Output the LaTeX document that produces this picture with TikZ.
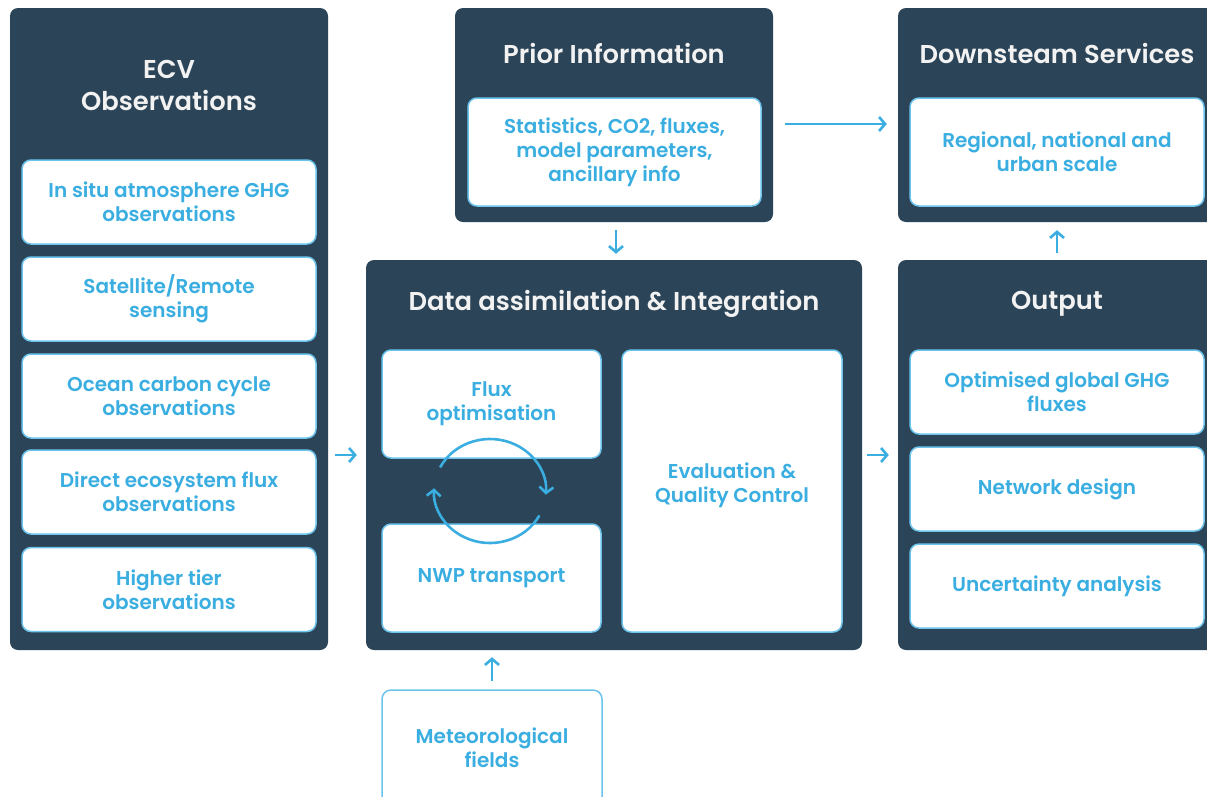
\documentclass[tikz,border=0pt]{standalone}
\usepackage{fontspec}
\setmainfont{Poppins}[BoldFont={Poppins SemiBold}]
\usetikzlibrary{arrows.meta}
\definecolor{panelc}{HTML}{2B4457}
\definecolor{txtc}{HTML}{3AAEE0}
\definecolor{bordc}{HTML}{6CC4EC}
\definecolor{titc}{HTML}{F2F2F2}
\begin{document}
\begin{tikzpicture}[x=1pt,y=-1pt,
 panel/.style={fill=panelc, draw=none, rounded corners=8pt, inner sep=0pt},
 ibox/.style={fill=white, draw=bordc, line width=1.5pt, rounded corners=9pt, align=center, text=txtc, font=\fontsize{20}{24}\selectfont\bfseries, inner sep=0pt},
 ptitle/.style={text=titc, font=\fontsize{25.8}{32}\selectfont\bfseries, align=center, inner sep=0pt},
 arr/.style={draw=txtc, line width=2.6pt, -{Straight Barb[length=6pt,width=14pt]}}]
\useasboundingbox[fill=white] (0,0) rectangle (1207,796);

% ECV panel
\node[panel, minimum width=318pt, minimum height=642pt] (ecv) at (169,329) {};
\node[ptitle] (ecvt) at (169,85) {ECV\\Observations};
\node[ibox, minimum width=294pt, minimum height=84pt] (e1) at (169,202) {In situ atmosphere GHG\\observations};
\node[ibox, minimum width=294pt, minimum height=84pt] (e2) at (169,299) {Satellite/Remote\\sensing};
\node[ibox, minimum width=294pt, minimum height=84pt] (e3) at (169,396) {Ocean carbon cycle\\observations};
\node[ibox, minimum width=294pt, minimum height=84pt] (e4) at (169,492) {Direct ecosystem flux\\observations};
\node[ibox, minimum width=294pt, minimum height=84pt] (e5) at (169,589.5) {Higher tier\\observations};

% Prior information
\node[panel, minimum width=318pt, minimum height=214pt] (prior) at (614,115) {};
\node[ptitle] (priort) at (614,53) {Prior Information};
\node[ibox, minimum width=293pt, minimum height=108pt] (p1) at (614.5,152) {Statistics, CO2, fluxes,\\model parameters,\\ancillary info};

% Downstream services
\node[panel, minimum width=318pt, minimum height=214pt] (down) at (1057,115) {};
\node[ptitle] (downt) at (1057,53) {Downsteam Services};
\node[ibox, minimum width=294pt, minimum height=108pt] (d1) at (1057,152) {Regional, national and\\urban scale};

% Data assimilation
\node[panel, minimum width=496pt, minimum height=390pt] (da) at (614,455) {};
\node[ptitle] (dat) at (614,304) {Data assimilation \& Integration};
\node[ibox, minimum width=219pt, minimum height=108pt] (flux) at (491.5,404) {Flux\\optimisation};
\node[ibox, minimum width=219pt, minimum height=108pt] (nwp) at (491.5,578) {NWP transport};
\node[ibox, minimum width=220pt, minimum height=282pt] (eval) at (732,491) {};
\node[text=txtc, font=\fontsize{20}{24}\selectfont\bfseries, align=center, inner sep=0pt] (evalt) at (eval.center |- 0,485) {Evaluation \&\\Quality Control};

% Output
\node[panel, minimum width=318pt, minimum height=390pt] (out) at (1057,455) {};
\node[ptitle] (outt) at (1057,304) {Output};
\node[ibox, minimum width=294pt, minimum height=84pt] (o1) at (1057,392) {Optimised global GHG\\fluxes};
\node[ibox, minimum width=294pt, minimum height=84pt] (o2) at (1057,489) {Network design};
\node[ibox, minimum width=294pt, minimum height=84pt] (o3) at (1057,586) {Uncertainty analysis};

% Meteorological fields
\node[ibox, minimum width=220pt, minimum height=116pt] (met) at (492,748) {Meteorological\\fields};

% connectors
\draw[arr, shorten <=7pt, shorten >=9pt] (ecv.east |- da.west) -- (da.west);
\draw[arr, shorten <=5pt, shorten >=9pt] (da.east) -- (out.west);
\coordinate (pa) at (prior.east |- 0,124);
\coordinate (pb) at (down.west |- 0,124);
\draw[arr, shorten <=12pt, shorten >=11pt] (pa) -- (pb);
\coordinate (pd) at (616,222);
\draw[arr, shorten <=8pt, shorten >=6pt] (pd) -- (pd |- da.north);
\draw[arr, shorten <=7pt, shorten >=8pt] (out.north) -- (down.south);
\draw[arr, shorten <=8pt, shorten >=7pt] (met.north) -- (met.north |- da.south);

% cycle arrows
\coordinate (cyc) at (490,491);
\draw[arr] (cyc) ++(-153:56 and 52) arc[start angle=-153, end angle=4, x radius=56, y radius=52];
\draw[arr] (cyc) ++(28:56 and 52) arc[start angle=28, end angle=183, x radius=56, y radius=52];
\end{tikzpicture}
\end{document}
